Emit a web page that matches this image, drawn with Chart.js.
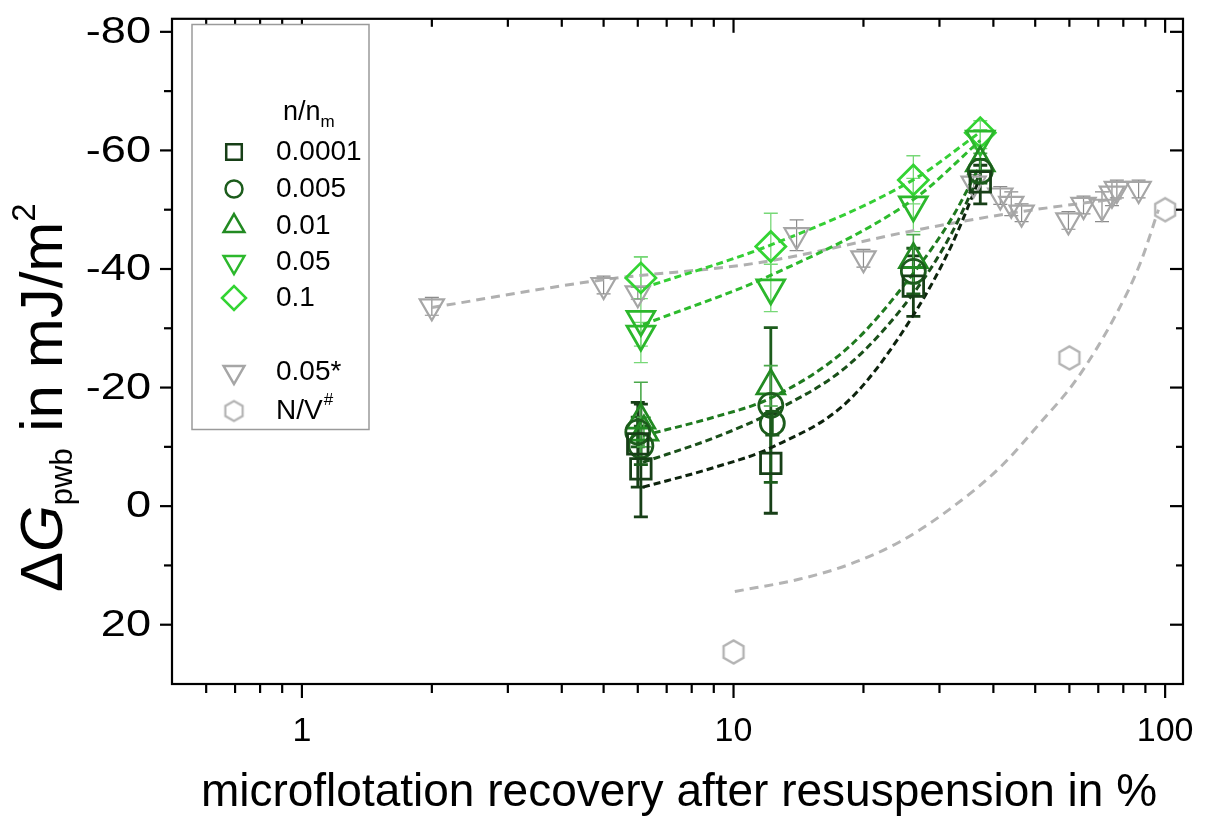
<!DOCTYPE html>
<html><head><meta charset="utf-8">
<script src="https://cdn.jsdelivr.net/npm/chart.js@4.4.1/dist/chart.umd.min.js"></script>
<style>html,body{margin:0;padding:0;background:#fff;}</style>
</head><body>
<canvas id="c" width="1206" height="816"></canvas>
<script>
// ---------- data ----------
const xTickLabels = [1, 10, 100];
const yTickLabels = [-80, -60, -40, -20, 0, 20];
const xMinorTicks = [0.6, 0.7, 0.8, 0.9, 2, 3, 4, 5, 6, 7, 8, 9, 20, 30, 40, 50, 60, 70, 80, 90];
const yMinorTicks = [-70, -50, -30, -10, 10];

// n/n_m = 0.0001 (squares)
const xA = [6.1, 6.0, 12.2, 26.1, 37.3];
const yA = [-6.3, -10.5, -7.2, -37.1, -54.7];
const loA = [-17.2, -17.5, -15.6, -42.2, -57.5];
const hiA = [1.8, -3.2, 1.2, -32.0, -51.0];
// 0.005 (circles)
const xB = [6.1, 6.0, 12.2, 12.3, 26.1, 37.3];
const yB = [-10.2, -12.5, -17.0, -14.0, -39.6, -56.5];
const loB = [-13.5, -15.0, -30.1, -16.0, -43.5, -58.5];
const hiB = [-7.0, -10.0, -4.0, -12.0, -35.8, -54.5];
// 0.01 (up triangles)
const xC = [6.1, 6.2, 12.2, 26.1, 37.3];
const yC = [-14.5, -12.5, -20.3, -41.6, -57.9];
const loC = [-20.9, -15.0, -23.7, -45.8, -59.5];
const hiC = [-8.0, -10.0, -16.9, -37.5, -56.5];
// 0.05 (down triangles)
const xD = [6.1, 6.1, 12.2, 26.1, 37.3];
const yD = [-31.5, -29.0, -36.8, -50.8, -61.9];
const loD = [-42.1, -31.0, -40.8, -55.3, -63.5];
const hiD = [-24.2, -27.0, -32.8, -46.3, -60.3];
// 0.1 (diamonds)
const xE = [6.1, 12.2, 26.1, 37.3];
const yE = [-38.5, -43.8, -55.0, -63.0];
const loE = [-42.0, -49.4, -59.1, -65.0];
const hiE = [-35.0, -38.2, -51.0, -61.0];
// 0.05* (grey down triangles)
const xG = [2.0, 5.0, 6.0, 14.0, 20.0, 36.0, 41.5, 44.0, 46.5, 59.7, 64.7, 71.4, 75.3, 77.3, 86.8];
const yG = [-33.7, -37.3, -35.9, -45.7, -41.8, -54.4, -52.4, -51.0, -49.5, -48.2, -50.8, -50.5, -52.7, -53.5, -53.5];
const errG = [1.5, 1.5, 1.0, 2.6, 1.5, 1.5, 1.5, 2.0, 1.5, 1.5, 1.5, 2.5, 2.0, 1.5, 1.5];
// N/V# (grey hexagons)
const xH = [10.0, 60.0, 100.0];
const yH = [24.6, -25.0, -50.0];

// dashed fit curves
const fitXA = [6.17, 9.0, 12.25, 18.6, 26.3, 32.0, 36.9];
const fitYA = [-3.2, -6.5, -9.9, -18.0, -32.6, -44.0, -54.7];
const fitXB = [6.17, 9.0, 12.25, 18.6, 26.3, 32.0, 36.9];
const fitYB = [-7.4, -11.5, -15.8, -24.0, -36.2, -46.0, -55.5];
const fitXC = [6.17, 9.0, 12.25, 18.6, 26.3, 32.0, 36.9];
const fitYC = [-11.9, -15.0, -18.3, -27.0, -39.6, -48.5, -56.9];
const fitXD = [6.17, 12.25, 26.3, 37.3];
const fitYD = [-30.6, -39.0, -51.9, -61.7];
const fitXE = [6.17, 12.25, 26.3, 37.3];
const fitYE = [-36.8, -44.1, -55.2, -63.1];
const fitXG = [2.0, 5.0, 11.3, 27.5, 43.8, 80.0];
const fitYG = [-33.5, -38.2, -41.0, -46.8, -49.4, -52.0];
const fitXH = [10.07, 14.24, 18.6, 24.3, 31.7, 41.4, 51.3, 62.5, 77.3, 87.6, 96.5];
const fitYH = [14.4, 12.3, 9.8, 6.0, 0.5, -6.5, -14.0, -21.5, -32.6, -41.0, -50.0];

// ---------- styles ----------
const FONT = '"Liberation Sans", Arial, sans-serif';
const col = {A:'#173f17', B:'#1c5c1c', C:'#228a22', D:'#2cb82c', E:'#33d433', G:'#a6a6a6', H:'#b4b4b4'};
const fitCol = {A:'#0d230d', B:'#1a501a', C:'#1f7a1f', D:'#2dbb2d', E:'#35cf35', G:'#b0b0b0', H:'#b4b4b4'};

const pts = (xs, ys) => xs.map((x, i) => ({x: x, y: ys[i]}));

// hexagon marker
function makeHex(r, lw) {
  const c = document.createElement('canvas');
  const s = Math.ceil(2 * r + 2 * lw + 2); c.width = s; c.height = s;
  const g = c.getContext('2d'); g.strokeStyle = col.H; g.lineWidth = lw; g.beginPath();
  for (let k = 0; k < 6; k++) { const a = Math.PI/2 + k*Math.PI/3; const px = s/2 + r*Math.cos(a), py = s/2 + r*Math.sin(a); if (k===0) g.moveTo(px,py); else g.lineTo(px,py); }
  g.closePath(); g.stroke();
  return c;
}
const hexPlot = makeHex(11.5, 2.4);
const hexLeg = makeHex(10, 2.2);

function pointSet(label, xs, ys, c, style, radius, rot, bw, lo, hi, errW, errC) {
  return {label, data: pts(xs, ys), showLine: false, pointStyle: style, pointRadius: radius, pointRotation: rot,
    pointBorderColor: c, pointBackgroundColor: 'rgba(0,0,0,0)', pointBorderWidth: bw, borderColor: c,
    errLo: lo, errHi: hi, errWidth: errW, errColor: errC};
}
function fitSet(xs, ys, c, w, dash) {
  return {label: '', data: pts(xs, ys), showLine: true, pointRadius: 0, borderColor: c, borderWidth: w,
    borderDash: dash, cubicInterpolationMode: 'monotone', fill: false, isFit: true};
}

const datasets = [
  pointSet('0.0001', xA, yA, col.A, 'rect', 14.5, 0, 2.8, loA, hiA, 2.8, col.A),
  pointSet('0.005', xB, yB, col.B, 'circle', 12, 0, 2.8, loB, hiB, 2.8, col.B),
  pointSet('0.01', xC, yC, col.C, 'triangle', 16, 0, 2.8, loC, hiC, 1.6, '#4aa84a'),
  pointSet('0.05', xD, yD, col.D, 'triangle', 16, 180, 2.8, loD, hiD, 1.3, '#77d877'),
  pointSet('0.1', xE, yE, col.E, 'rectRot', 15, 0, 2.8, loE, hiE, 1.3, '#77d877'),
  pointSet('0.05*', xG, yG, col.G, 'triangle', 14, 180, 2.2, yG.map((v,i)=>v-errG[i]), yG.map((v,i)=>v+errG[i]), 1.2, '#8c8c8c'),
  pointSet('N/V#', xH, yH, col.H, hexPlot, 12, 0, 2, null, null, 0, null),
  fitSet(fitXA, fitYA, fitCol.A, 3, [7, 4]),
  fitSet(fitXB, fitYB, fitCol.B, 3, [7, 4]),
  fitSet(fitXC, fitYC, fitCol.C, 3, [7, 4]),
  fitSet(fitXD, fitYD, fitCol.D, 3, [7, 4]),
  fitSet(fitXE, fitYE, fitCol.E, 3, [7, 4]),
  fitSet(fitXG, fitYG, fitCol.G, 3, [9, 6]),
  fitSet(fitXH, fitYH, fitCol.H, 3, [9, 6])
];

// ---------- plugins ----------
const errorBars = {
  id: 'errorBars',
  beforeDatasetsDraw(chart) {
    const ctx = chart.ctx, xs = chart.scales.x, ys = chart.scales.y;
    ctx.save();
    chart.data.datasets.forEach(ds => {
      if (!ds.errLo) return;
      ctx.strokeStyle = ds.errColor; ctx.lineWidth = ds.errWidth;
      ds.data.forEach((p, i) => {
        const px = xs.getPixelForValue(p.x), y1 = ys.getPixelForValue(ds.errLo[i]), y2 = ys.getPixelForValue(ds.errHi[i]);
        ctx.beginPath(); ctx.moveTo(px, y1); ctx.lineTo(px, y2);
        ctx.moveTo(px - 7, y1); ctx.lineTo(px + 7, y1); ctx.moveTo(px - 7, y2); ctx.lineTo(px + 7, y2); ctx.stroke();
      });
    });
    ctx.restore();
  }
};

const frame = {
  id: 'frame',
  afterDraw(chart) {
    const ctx = chart.ctx, a = chart.chartArea, xs = chart.scales.x, ys = chart.scales.y;
    ctx.save(); ctx.strokeStyle = '#000'; ctx.lineWidth = 2.2; ctx.lineCap = 'butt';
    ctx.strokeRect(a.left, a.top, a.right - a.left, a.bottom - a.top);
    const tick = (x1, y1, x2, y2) => { ctx.beginPath(); ctx.moveTo(x1, y1); ctx.lineTo(x2, y2); ctx.stroke(); };
    xTickLabels.forEach(v => { const px = xs.getPixelForValue(v); tick(px, a.bottom, px, a.bottom + 14); tick(px, a.top, px, a.top + 14); });
    xMinorTicks.forEach(v => { const px = xs.getPixelForValue(v); tick(px, a.bottom, px, a.bottom + 9); tick(px, a.top, px, a.top + 8); });
    yTickLabels.forEach(v => { const py = ys.getPixelForValue(v); tick(a.left - 12, py, a.left, py); tick(a.right - 13, py, a.right, py); });
    yMinorTicks.forEach(v => { const py = ys.getPixelForValue(v); tick(a.left - 8, py, a.left, py); tick(a.right - 7, py, a.right, py); });
    ctx.restore();

    // y tick labels (the reference draws them slightly wide)
    ctx.save(); ctx.fillStyle = '#000'; ctx.font = '37px ' + FONT; ctx.textAlign = 'right'; ctx.textBaseline = 'middle';
    yTickLabels.forEach(v => {
      const py = ys.getPixelForValue(v);
      ctx.save(); ctx.translate(151, py + 1); ctx.scale(1.22, 1); ctx.fillText(String(v), 0, 0); ctx.restore();
    });
    ctx.restore();

    // axis titles
    ctx.save(); ctx.fillStyle = '#000';
    ctx.font = '46px ' + FONT; ctx.textAlign = 'center'; ctx.textBaseline = 'alphabetic';
    ctx.fillText('microflotation recovery after resuspension in %', 679, 806);
    // y title, rotated
    ctx.translate(62, 592); ctx.rotate(-Math.PI / 2); ctx.textAlign = 'left';
    let x = 0;
    const part = (t, f, dy) => { ctx.font = f; ctx.fillText(t, x, dy); x += ctx.measureText(t).width; };
    part('\u0394', '60px ' + FONT, 0);
    part('G', 'italic 60px ' + FONT, 0);
    part('pwb', '31px ' + FONT, 10);
    part(' in mJ/m', '60px ' + FONT, 0);
    part('2', '33px ' + FONT, -27);
    ctx.restore();
  }
};

const legendBox = {
  id: 'legendBox',
  afterDraw(chart) {
    const ctx = chart.ctx;
    ctx.save();
    ctx.fillStyle = '#fff'; ctx.fillRect(192, 24, 177, 405);
    ctx.strokeStyle = '#9a9a9a'; ctx.lineWidth = 1.5; ctx.strokeRect(192, 24.5, 177, 405);
    ctx.fillStyle = '#000'; ctx.textBaseline = 'alphabetic'; ctx.textAlign = 'left';
    ctx.font = '27px ' + FONT; ctx.fillText('n/n', 283, 120);
    const w = ctx.measureText('n/n').width; ctx.font = '17px ' + FONT; ctx.fillText('m', 283 + w, 127);
    const rows = [[0, 152, 11], [1, 189, 8.5], [2, 226, 12], [3, 262, 12], [4, 298, 12], [5, 372, 12], [6, 411, 12]];
    rows.forEach(([di, ry, rr]) => {
      const ds = chart.data.datasets[di];
      ctx.strokeStyle = ds.pointBorderColor; ctx.fillStyle = 'rgba(0,0,0,0)'; ctx.lineWidth = 2.5;
      Chart.helpers.drawPoint(ctx, {pointStyle: di === 6 ? hexLeg : ds.pointStyle, rotation: ds.pointRotation, radius: rr, borderWidth: 2.5}, 234, ry);
      ctx.fillStyle = '#000'; ctx.textBaseline = 'middle'; ctx.font = '28px ' + FONT;
      if (di === 6) {
        ctx.fillText('N/V', 276, ry); const ww = ctx.measureText('N/V').width;
        ctx.font = '17px ' + FONT; ctx.fillText('#', 276 + ww + 1, ry - 11);
      } else {
        ctx.fillText(ds.label, 276, ry);
      }
    });
    ctx.restore();
  }
};

const noPad = s => { s.paddingTop = 0; s.paddingBottom = 0; s.paddingLeft = 0; s.paddingRight = 0; };

new Chart(document.getElementById('c'), {
  type: 'scatter',
  data: {datasets},
  options: {
    responsive: false, animation: false, devicePixelRatio: 1,
    layout: {padding: {top: 15, right: 23, left: 0, bottom: 0}},
    plugins: {legend: {display: false}, tooltip: {enabled: false}},
    elements: {line: {tension: 0}},
    scales: {
      x: {
        type: 'logarithmic', position: 'bottom', min: 0.5, max: 110,
        grid: {display: false}, border: {display: false},
        afterBuildTicks: s => { s.ticks = xTickLabels.map(v => ({value: v})); },
        afterFit: s => { s.height = 132; noPad(s); },
        ticks: {autoSkip: false, maxRotation: 0, padding: 19, color: '#000', font: {family: FONT, size: 34},
          callback: v => String(v)}
      },
      y: {
        type: 'linear', position: 'left', min: -82.2, max: 30, reverse: true,
        grid: {display: false}, border: {display: false},
        afterBuildTicks: s => { s.ticks = yTickLabels.map(v => ({value: v})); },
        afterFit: s => { s.width = 172; noPad(s); },
        ticks: {display: false}
      }
    }
  },
  plugins: [errorBars, frame, legendBox]
});
</script>
</body></html>
